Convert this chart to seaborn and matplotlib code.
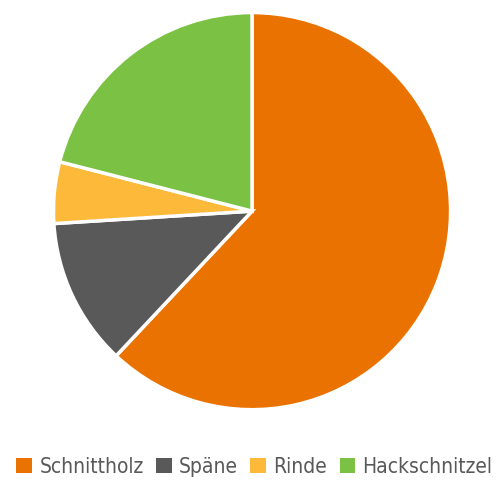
import matplotlib
matplotlib.use("Agg")
import matplotlib.pyplot as plt
from matplotlib import font_manager
from matplotlib.patches import Patch
import seaborn as sns

categories = ["Schnittholz", "Späne", "Rinde", "Hackschnitzel"]
values = [62, 12, 5, 21]
colors = ["#EA7200", "#595959", "#FDB93A", "#7BC143"]

sns.set_theme(style="white")
names = {f.name for f in font_manager.fontManager.ttflist}
fam = "Liberation Sans Narrow" if "Liberation Sans Narrow" in names else "DejaVu Sans"
plt.rcParams["font.family"] = [fam, "DejaVu Sans"]

fig = plt.figure(figsize=(4.97, 4.82), dpi=100)
ax = fig.add_axes([0.1076, 0.150, 0.799, 0.824])
ax.pie(values, colors=colors, startangle=90, counterclock=False,
       wedgeprops=dict(edgecolor="white", linewidth=2.5))
ax.set_xlim(-1, 1)
ax.set_ylim(-1, 1)
ax.set_aspect("equal")
ax.axis("off")

handles = [Patch(facecolor=c, edgecolor="none") for c in colors]
fig.legend(handles, categories, loc="center", bbox_to_anchor=(0.512, 0.032),
           ncol=4, frameon=False, handlelength=0.75, handleheight=0.75,
           handletextpad=0.35, columnspacing=0.6, borderaxespad=0,
           prop=dict(family=[fam, "DejaVu Sans"], size=15, stretch="condensed"),
           labelcolor="#595959")
fig.savefig("out.png", dpi=100)
